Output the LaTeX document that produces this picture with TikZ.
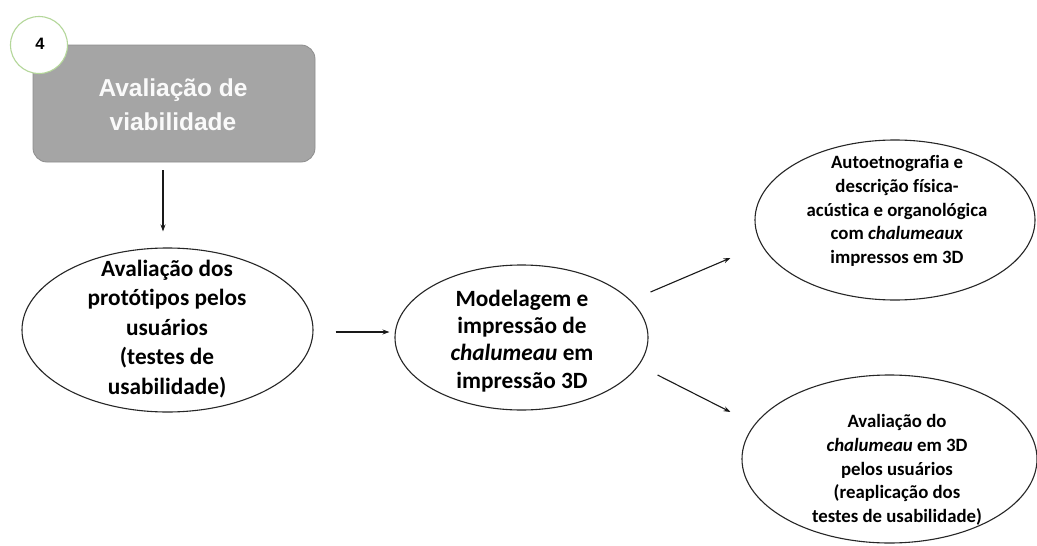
\documentclass[tikz,border=0pt]{standalone}
\usepackage{fontspec}
\setmainfont[Ligatures=NoCommon]{Carlito}
\newfontfamily\headfont{Liberation Sans}
\usetikzlibrary{shapes.geometric,arrows.meta,calc}
\definecolor{boxgray}{HTML}{A5A5A5}
\definecolor{boxedge}{HTML}{8E8E8E}
\definecolor{ringgreen}{HTML}{B4D79A}
\definecolor{inkgray}{HTML}{262626}
\begin{document}
\begin{tikzpicture}[x=1pt,y=-1pt,
  stagebox/.style={draw=boxedge, fill=boxgray, rounded corners=14pt, line width=0.8pt},
  badge/.style={circle, draw=ringgreen, fill=white, line width=1.1pt, inner sep=0pt, minimum size=57pt},
  oval/.style={ellipse, draw=inkgray, line width=1.1pt, inner sep=0pt},
  bigtxt/.style={align=center, font=\bfseries\fontsize{23.3}{29.5}\selectfont, text=black},
  midtxt/.style={align=center, font=\bfseries\fontsize{23.3}{27.3}\selectfont, text=black},
  smalltxt/.style={align=center, font=\bfseries\fontsize{18.8}{23.7}\selectfont, text=black},
  arr/.style={-{Stealth[length=7pt,width=5pt]}, line width=1.1pt, draw=black!90}
]
\useasboundingbox (0,0) rectangle (1037,546);
\fill[white] (0,0) rectangle (1037,546);

% stage box with its number badge
\draw[stagebox] (33,45) rectangle (315,162);
\node[align=center, text=white!96!gray, font=\headfont\bfseries\fontsize{24.5}{34}\selectfont] (title) at (173,105) {Avaliação de\\viabilidade};
\coordinate (box) at (174,162);
\node[badge] (badge) at (39,45) {};
\node[font=\headfont\bfseries\fontsize{16.5}{18}\selectfont] (num) at (40,44) {4};

% ovals
\node[oval, minimum width=291pt, minimum height=164pt] (e1) at (167.5,330) {};
\node[bigtxt] (t1) at (167,329) {Avaliação dos\\protótipos pelos\\usuários\\(testes de\\usabilidade)};

\node[oval, minimum width=253pt, minimum height=145pt] (e2) at (521.5,337.5) {};
\node[midtxt] (t2) at (522,341) {Modelagem e\\impressão de\\\textit{chalumeau} em\\impressão 3D};

\node[oval, minimum width=280pt, minimum height=160pt] (e3) at (895,220) {};
\node[smalltxt] (t3) at (897,211) {Autoetnografia e\\descrição física-\\acústica e organológica\\com \textit{chalumeaux}\\impressos em 3D};

\node[oval, minimum width=295pt, minimum height=168pt] (e4) at (889.5,459) {};
\node[smalltxt] (t4) at (897,470) {Avaliação do\\\textit{chalumeau} em 3D\\pelos usuários\\(reaplicação dos\\testes de usabilidade)};

% connectors
\draw[arr] ($(box)+(-11,8)$) -- ($(e1.north)+(-4.5,-16)$);
\draw[arr] ($(e1.east)+(22,2)$) -- ($(e2.west)+(-5,-5.5)$);
\draw[arr] ($(e2.east)+(2,-45.5)$) -- ($(e3.west)+(-24,38)$);
\draw[arr] ($(e2.east)+(9,37.5)$) -- ($(e4.west)+(-11,-47)$);
\end{tikzpicture}
\end{document}
